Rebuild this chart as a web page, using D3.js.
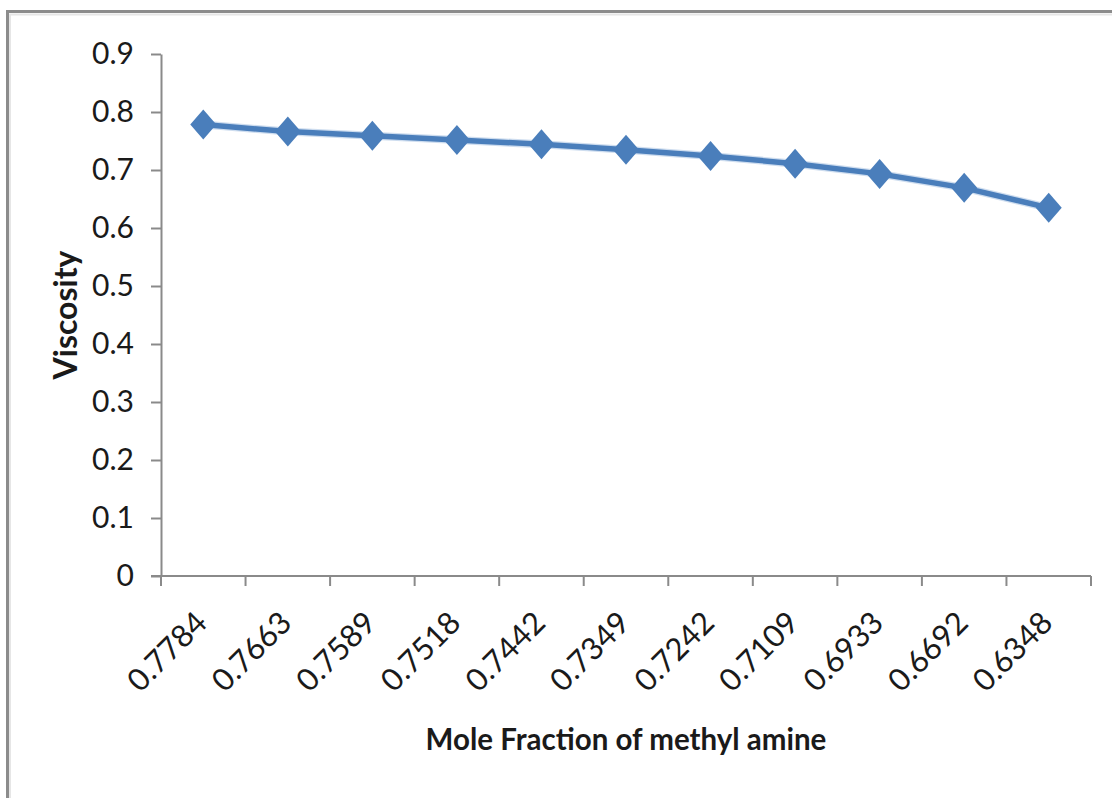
<!DOCTYPE html>
<html>
<head>
<meta charset="utf-8">
<script src="https://cdn.jsdelivr.net/npm/d3@7"></script>
<style>
  html, body { margin: 0; padding: 0; background: #fff; }
  svg { display: block; }
  text { font-family: Lato, "Open Sans", sans-serif; fill: #1a1a1a; }
</style>
</head>
<body>
<svg id="chart" width="1112" height="798"></svg>
<script>
// Viscosity against mole fraction of methyl amine
const moleFractions = ["0.7784", "0.7663", "0.7589", "0.7518", "0.7442", "0.7349",
                       "0.7242", "0.7109", "0.6933", "0.6692", "0.6348"];
const viscosity = [0.7784, 0.7663, 0.7589, 0.7518, 0.7442, 0.7349,
                   0.7242, 0.7109, 0.6933, 0.6692, 0.6348];
const yTicks = [0, 0.1, 0.2, 0.3, 0.4, 0.5, 0.6, 0.7, 0.8, 0.9];
const xTitle = "Mole Fraction of methyl amine";
const yTitle = "Viscosity";

const svg = d3.select("#chart");
const W = 1112, H = 798;
const margin = { left: 161, right: 21, top: 54, bottom: 222 };
const plotW = W - margin.left - margin.right;
const plotH = H - margin.top - margin.bottom;

const axisColor = "#8a8a8a";
const seriesColor = "#4a7ebb";

// chart area frame
svg.append("rect")
  .attr("x", 7.5).attr("y", 11.5)
  .attr("width", W + 20).attr("height", H + 20)
  .attr("fill", "none")
  .attr("stroke", "#8c8c8c")
  .attr("stroke-width", 3);
svg.append("rect")
  .attr("x", 10).attr("y", 14.5)
  .attr("width", W + 20).attr("height", H + 20)
  .attr("fill", "none")
  .attr("stroke", "#e6e6e6")
  .attr("stroke-width", 2);

const g = svg.append("g").attr("transform", `translate(${margin.left},${margin.top})`);

const x = d3.scaleBand().domain(moleFractions).range([0, plotW]).padding(0);
const y = d3.scaleLinear().domain([0, 0.9]).range([plotH, 0]);

// y axis
const yAxis = g.append("g")
  .call(d3.axisLeft(y).tickValues(yTicks).tickSize(10).tickSizeOuter(0).tickPadding(17)
    .tickFormat(d => d === 0 ? "0" : d3.format(".1f")(d)));
yAxis.select(".domain").attr("stroke", axisColor).attr("stroke-width", 2);
yAxis.selectAll(".tick line").attr("stroke", axisColor).attr("stroke-width", 2);
yAxis.selectAll(".tick text")
  .style("font-family", "Lato, 'Open Sans', sans-serif")
  .style("font-size", "30px").attr("fill", "#1a1a1a");

// x axis line and tick marks between categories
const xAxis = g.append("g").attr("transform", `translate(0,${plotH})`);
xAxis.append("line")
  .attr("x1", -10).attr("x2", plotW)
  .attr("stroke", axisColor).attr("stroke-width", 2);
const boundaries = moleFractions.map(d => x(d)).concat([x.range()[1]]);
xAxis.selectAll("line.tick").data(boundaries).join("line")
  .attr("class", "tick")
  .attr("x1", d => d).attr("x2", d => d)
  .attr("y1", 0).attr("y2", 10)
  .attr("stroke", axisColor).attr("stroke-width", 2);

// rotated category labels
xAxis.selectAll("text.cat").data(moleFractions).join("text")
  .attr("class", "cat")
  .attr("transform", d => `translate(${x(d) + x.bandwidth() / 2 - 2},${41}) rotate(-45)`)
  .attr("text-anchor", "end")
  .attr("dy", "0.35em")
  .style("font-size", "31px")
  .text(d => d);

// axis titles
svg.append("text")
  .attr("x", margin.left + plotW / 2)
  .attr("y", 750)
  .attr("text-anchor", "middle")
  .style("font-size", "29.5px")
  .style("font-weight", "bold")
  .text(xTitle);

svg.append("text")
  .attr("transform", `translate(77,${margin.top + plotH / 2}) rotate(-90)`)
  .attr("text-anchor", "middle")
  .style("font-size", "32px")
  .style("font-weight", "bold")
  .text(yTitle);

// series line
const points = moleFractions.map((c, i) => ({ c, v: viscosity[i] }));
const line = d3.line()
  .x(d => x(d.c) + x.bandwidth() / 2)
  .y(d => y(d.v));

g.append("path")
  .datum(points)
  .attr("d", line)
  .attr("fill", "none")
  .attr("stroke", "#9dbbe0")
  .attr("stroke-width", 8)
  .attr("stroke-opacity", 0.5)
  .attr("stroke-linejoin", "round");
g.append("path")
  .datum(points)
  .attr("d", line)
  .attr("fill", "none")
  .attr("stroke", seriesColor)
  .attr("stroke-width", 5.5)
  .attr("stroke-linejoin", "round");

// diamond markers
const hw = 13, hh = 15;
g.selectAll("path.marker").data(points).join("path")
  .attr("class", "marker")
  .attr("transform", d => `translate(${x(d.c) + x.bandwidth() / 2},${y(d.v)})`)
  .attr("d", `M0,${-hh}L${hw},0L0,${hh}L${-hw},0Z`)
  .attr("fill", seriesColor);
</script>
</body>
</html>
